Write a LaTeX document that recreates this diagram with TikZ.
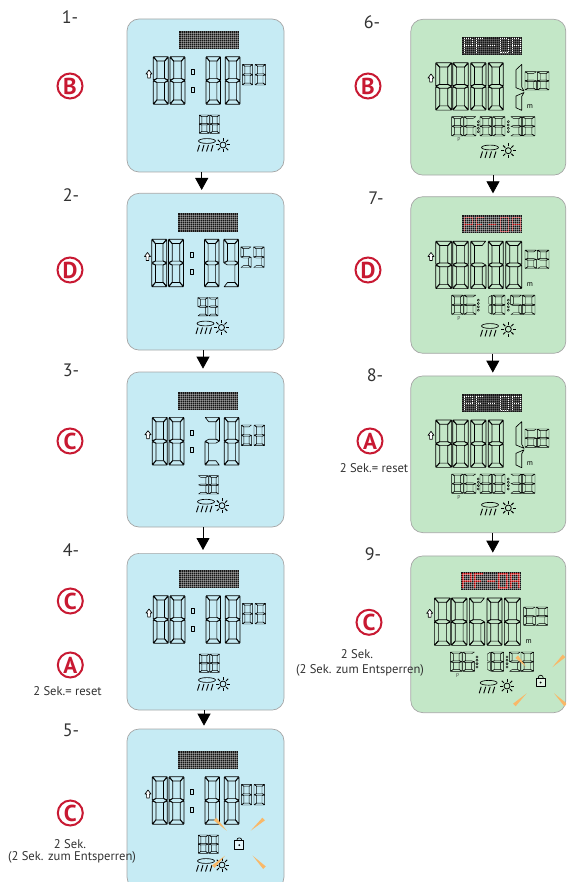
\documentclass[tikz,border=0pt]{standalone}
\usepackage{fontspec}
\setmainfont{PT Sans}
\usetikzlibrary{arrows.meta,calc}
\definecolor{bluep}{RGB}{198,235,244}
\definecolor{greenp}{RGB}{195,231,199}
\definecolor{badgered}{RGB}{200,25,50}
\definecolor{rayc}{RGB}{249,184,104}
\definecolor{txtc}{RGB}{50,50,50}
\def\lcdw{.65}
\tikzset{
  panelbox/.style={draw=black!35,line width=.7pt,rounded corners=12pt,inner sep=0pt},
  bluebox/.style={panelbox,fill=bluep,minimum width=157pt},
  greenbox/.style={panelbox,fill=greenp,minimum width=155pt},
  flow/.style={line width=.8pt,-{Triangle[width=13pt,length=12pt]},shorten >=3pt},
  lcd/.style={draw=black,line width=\lcdw pt,line join=round},
  steplabel/.style={font=\fontsize{18}{18}\selectfont,text=txtc,inner sep=0pt},
  note/.style={font=\fontsize{12.6}{14}\selectfont,text=txtc,inner sep=0pt},
  badge/.style={circle,draw=badgered,line width=2pt,minimum size=25pt,inner sep=0pt,text=badgered,font=\fontsize{23}{23}\selectfont\bfseries},
}
% segments in a unit box
\def\lcdsega{\draw[lcd] (.02,0)--(.98,0)--(.75,.09)--(.25,.09)--cycle;}
\def\lcdsegd{\draw[lcd] (.02,1)--(.98,1)--(.75,.91)--(.25,.91)--cycle;}
\def\lcdsegf{\draw[lcd] (0,.01)--(.25,.1)--(.25,.455)--(0,.49)--cycle;}
\def\lcdsegb{\draw[lcd] (1,.01)--(.75,.1)--(.75,.455)--(1,.49)--cycle;}
\def\lcdsege{\draw[lcd] (0,.99)--(.25,.9)--(.25,.545)--(0,.51)--cycle;}
\def\lcdsegc{\draw[lcd] (1,.99)--(.75,.9)--(.75,.545)--(1,.51)--cycle;}
\def\lcdsegg{\draw[lcd] (.02,.5)--(.25,.46)--(.75,.46)--(.98,.5)--(.75,.54)--(.25,.54)--cycle;}
\expandafter\def\csname digs0\endcsname{a,b,c,d,e,f}
\expandafter\def\csname digs1\endcsname{b,c}
\expandafter\def\csname digs2\endcsname{a,b,g,e,d}
\expandafter\def\csname digs3\endcsname{a,b,g,c,d}
\expandafter\def\csname digs5\endcsname{a,f,g,c,d}
\expandafter\def\csname digs6\endcsname{a,f,g,e,d,c}
\expandafter\def\csname digs8\endcsname{a,b,c,d,e,f,g}
\expandafter\def\csname digs9\endcsname{a,b,f,g,c,d}
\newcommand\dgt[5]{\begin{scope}[shift={(#1,#2)},x=#3pt,y=-#4pt]
  \pgfmathsetmacro\lcdw{#3<13?0.42:0.65}
  \expandafter\let\expandafter\curlist\csname digs#5\endcsname
  \foreach \s in \curlist {\csname lcdseg\s\endcsname}
\end{scope}}
\newcommand\upmark[2]{\draw[lcd,fill=white] (#1,#2-4)--(#1+3,#2)--(#1+1.4,#2)--(#1+1.4,#2+4)--(#1-1.4,#2+4)--(#1-1.4,#2)--(#1-3,#2)--cycle;}
\newcommand\mglyphs[1]{\draw[#1] (2,16)--(2,2)--(10,2)--(10,9)--(2,9) (14,16)--(14,2)--(22,2) (14,9)--(20,9) (26,9)--(34,9) (38,2)--(46,2)--(46,16)--(38,16)--cycle (50,16)--(50,2)--(58,2)--(58,16) (50,9)--(58,9);}
% dot-matrix bar: x y, grid opacity, extra glyph style
\newcommand\mtx[4]{\begin{scope}[shift={(#1,#2)}]
  \fill[black!92] (0,0) rectangle (60,18.3);
  \mglyphs{#4}
  \foreach \u in {2,4,...,58} \draw[white,opacity=#3,line width=.35pt] (\u,0)--(\u,18.3);
  \foreach \u in {2,4,...,16} \draw[white,opacity=#3,line width=.35pt] (0,\u)--(60,\u);
\end{scope}}
\newcommand\weather[4]{% cloud centre, sun centre
  \draw[lcd] (#1,#2) ellipse (8.5 and 2.4);
  \foreach \u in {-7.5,-3,1.5,6} \draw[lcd,line width=.9pt] (#1+\u,#2+4)--(#1+\u-2,#2+10.5);
  \draw[lcd,line width=.8pt] (#3,#4) circle (3);
  \foreach \a in {0,45,...,315} \draw[lcd,line width=1pt] ($(#3,#4)+(\a:4.3)$)--($(#3,#4)+(\a:7.3)$);
}
\newcommand\padlock[2]{%
  \draw[lcd,fill=white,fill opacity=.55] (#1-4.5,#2-3.5) rectangle (#1+4.5,#2+5);
  \draw[lcd] (#1-2.6,#2-3.5) .. controls (#1-2.6,#2-7.5) and (#1+2.6,#2-7.5) .. (#1+2.6,#2-3.5);
  \fill (#1,#2+.8) circle (1);
}
\newcommand\ray[6]{\fill[rayc] (#1+#5,#2+#6)--(#1-#5,#2-#6)--(#3,#4)--cycle;}
% left display: dx dy | d3 d4 | s1 s2 | b1 b2
\newcommand\leftlcd[8]{\begin{scope}[shift={(#1,#2)}]
  \mtx{179.3}{31}{.33}{black!92,line width=.1pt}
  \upmark{149}{74}
  \dgt{153.3}{56.7}{15}{47.6}{8}
  \dgt{170}{56.7}{15}{47.6}{8}
  \draw[lcd,fill=bluep] (191.5,69.5) rectangle (194.5,74.5) (191.5,87) rectangle (194.5,92);
  \dgt{206}{56.7}{14.5}{47.6}{#3}
  \dgt{225.3}{56.7}{14.7}{47.6}{#4}
  \dgt{242.3}{64.3}{10.4}{20.7}{#5}
  \dgt{255}{64.3}{10.7}{20.7}{#6}
  \dgt{199.3}{115}{10}{18.3}{#7}
  \dgt{210}{115}{9.5}{18.3}{#8}
  \weather{207}{141}{223}{145}
\end{scope}}
% right display
\newcommand\colondots[1]{\foreach \u in {121.7,125,128.3,131.7} \draw[lcd,line width=.45pt] (#1,\u) circle (1.1);}
\newcommand\lcdone{\draw[lcd] (521.7,64.4)--(516,69.7)--(516,87.7)--(524,91)--(521.7,87)--cycle (524,92.5)--(516,96)--(516,107.7)--(521.7,110.4)--(521.7,96.5)--cycle;}
\newcommand\rightlcd[7]{\begin{scope}[shift={(#1,#2)}]
  \mtx{462.3}{36.7}{#3}{#4}
  \upmark{431}{78}
  #5
  \colondots{478.3}\colondots{508.3}
  #6
  \node[font=\fontsize{7.5}{8}\selectfont,inner sep=0pt] (m#7) at (530,106.5) {m};
  \node[font=\fontsize{5.5}{6}\selectfont,text=black!70,inner sep=0pt] (pp#7) at (459,140) {P};
  \weather{490}{147.5}{508.3}{150.7}
\end{scope}}
\newcommand\rightA{%
  \dgt{435.7}{62.7}{16}{47.4}{8}\dgt{452.7}{62.7}{15.6}{47.4}{8}\dgt{470.7}{62.7}{15.3}{47.4}{8}\dgt{488.3}{62.7}{15}{47.4}{8}\lcdone
  \dgt{525}{71.7}{11.7}{18.3}{6}\dgt{537.3}{71.7}{11.7}{18.3}{8}}
\newcommand\rightB{%
  \dgt{435.7}{62.7}{16}{47.4}{8}\dgt{452.7}{62.7}{15.6}{47.4}{8}\dgt{470.7}{62.7}{15.3}{47.4}{6}\dgt{488.3}{62.7}{15}{47.4}{8}\dgt{505.7}{62.7}{16}{47.4}{8}
  \dgt{525}{71.7}{11.7}{18.3}{6}\dgt{537.3}{71.7}{11.7}{18.3}{9}}
\newcommand\rowA{\dgt{451.7}{116.7}{11.6}{19.3}{8}\dgt{464}{116.7}{12}{19.3}{6}\dgt{480}{116.7}{11.7}{19.3}{8}\dgt{492.7}{116.7}{12.3}{19.3}{8}\dgt{510.7}{116.7}{11}{19.3}{3}\dgt{522.3}{116.7}{12.7}{19.3}{8}}
\newcommand\rowB{\dgt{451.7}{116.7}{11.6}{19.3}{8}\dgt{464}{116.7}{12}{19.3}{6}\dgt{480}{116.7}{11.7}{19.3}{1}\dgt{492.7}{116.7}{12.3}{19.3}{8}\dgt{510.7}{116.7}{11}{19.3}{5}\dgt{522.3}{116.7}{12.7}{19.3}{8}}
\begin{document}
\begin{tikzpicture}[x=1pt,y=-1pt]
\useasboundingbox (0,0) rectangle (566,882);
\clip (0,0) rectangle (566,882);
% panels
\node[bluebox,minimum height=153pt] (p1) at (205.5,95.5) {};
\node[bluebox,minimum height=156.7pt] (p2) at (205.5,271.7) {};
\node[bluebox,minimum height=155pt] (p3) at (205.5,449.5) {};
\node[bluebox,minimum height=156.7pt] (p4) at (205.5,631.7) {};
\node[bluebox,minimum height=160pt] (p5) at (205.5,809) {};
\node[greenbox,minimum height=155.8pt] (p6) at (488.3,97.2) {};
\node[greenbox,minimum height=156.6pt] (p7) at (488.3,275) {};
\node[greenbox,minimum height=156.7pt] (p8) at (488.3,454.3) {};
\node[greenbox,minimum height=156.7pt] (p9) at (488.3,634.3) {};
% connectors
\draw[flow] ([xshift=-3.8pt]p1.south) -- ([xshift=-3.8pt]p2.north);
\draw[flow] ([xshift=-2.5pt]p2.south) -- ([xshift=-2.5pt]p3.north);
\draw[flow] ([xshift=-2.5pt]p3.south) -- ([xshift=-2.5pt]p4.north);
\draw[flow] ([xshift=-1.5pt]p4.south) -- ([xshift=-1.5pt]p5.north);
\draw[flow] ([xshift=4.7pt]p6.south) -- ([xshift=4.7pt]p7.north);
\draw[flow] ([xshift=4.5pt]p7.south) -- ([xshift=4.5pt]p8.north);
\draw[flow] ([xshift=4.5pt]p8.south) -- ([xshift=4.5pt]p9.north);
% left displays
\leftlcd{0}{0}{8}{8}{8}{8}{8}{8}
\leftlcd{-1.5}{182.5}{8}{9}{5}{9}{9}{3}
\leftlcd{-1}{360.7}{2}{8}{6}{8}{3}{8}
\leftlcd{0}{539}{8}{8}{8}{8}{8}{8}
\leftlcd{-1}{720}{8}{8}{8}{8}{8}{8}
% right displays
\rightlcd{0}{0}{.2}{white,line width=1pt,dash pattern=on 1pt off 1pt}{\rightA}{\rowA}{a}
\rightlcd{0}{178.5}{.38}{red!70!black,line width=1.1pt}{\rightB}{\rowB}{b}
\rightlcd{0}{357.3}{.2}{white,line width=1pt,dash pattern=on 1pt off 1pt}{\rightA}{\rowA}{c}
\rightlcd{-1.3}{535.3}{.38}{red!70!black,line width=1.1pt}{\rightB}{\rowB}{d}
% lock and rays
\padlock{239.3}{844.3}
\ray{215}{819}{226.7}{830.7}{1.3}{-1.3}
\ray{263.7}{819}{250.7}{830.7}{1.3}{1.3}
\ray{213.3}{866.7}{225}{855.7}{1.3}{1.3}
\ray{264.5}{867.7}{252.7}{855.7}{1.3}{-1.3}
\padlock{540.7}{681.7}
\ray{516.7}{656.7}{526}{666.7}{1.3}{-1.3}
\ray{564}{656}{552.3}{667.3}{1.3}{1.3}
\ray{514.3}{705}{526.7}{693.3}{1.3}{1.3}
\ray{565.7}{705}{554}{693.3}{1.3}{-1.3}
% step labels
\node[steplabel] (n1) at (70,17) {1-};
\node[steplabel] (n2) at (71,195) {2-};
\node[steplabel] (n3) at (71,370) {3-};
\node[steplabel] (n4) at (71,550) {4-};
\node[steplabel] (n5) at (71,730) {5-};
\node[steplabel] (n6) at (372,22) {6-};
\node[steplabel] (n7) at (376,198) {7-};
\node[steplabel] (n8) at (375,375) {8-};
\node[steplabel] (n9) at (373,554) {9-};
% badges
\node[badge] (b1) at (70,86) {B};
\node[badge] (b2) at (70,270) {D};
\node[badge] (b3) at (70,441) {C};
\node[badge] (b4) at (70.3,601) {C};
\node[badge] (b4a) at (70.3,665) {A};
\node[badge] (b5) at (70.3,813) {C};
\node[badge] (b6) at (368,86) {B};
\node[badge] (b7) at (368,270) {D};
\node[badge] (b8) at (370,441) {A};
\node[badge] (b9) at (369,622.3) {C};
% notes
\node[note] (t1) at (67.5,691) {2 Sek.= reset};
\node[note] (t2) at (70,844) {2 Sek.};
\node[note] (t3) at (72,857.5) {(2 Sek. zum Entsperren)};
\node[note] (t4) at (374,467.7) {2 Sek.= reset};
\node[note] (t5) at (357,654) {2 Sek.};
\node[note] (t6) at (360,670) {(2 Sek. zum Entsperren)};
\end{tikzpicture}
\end{document}
